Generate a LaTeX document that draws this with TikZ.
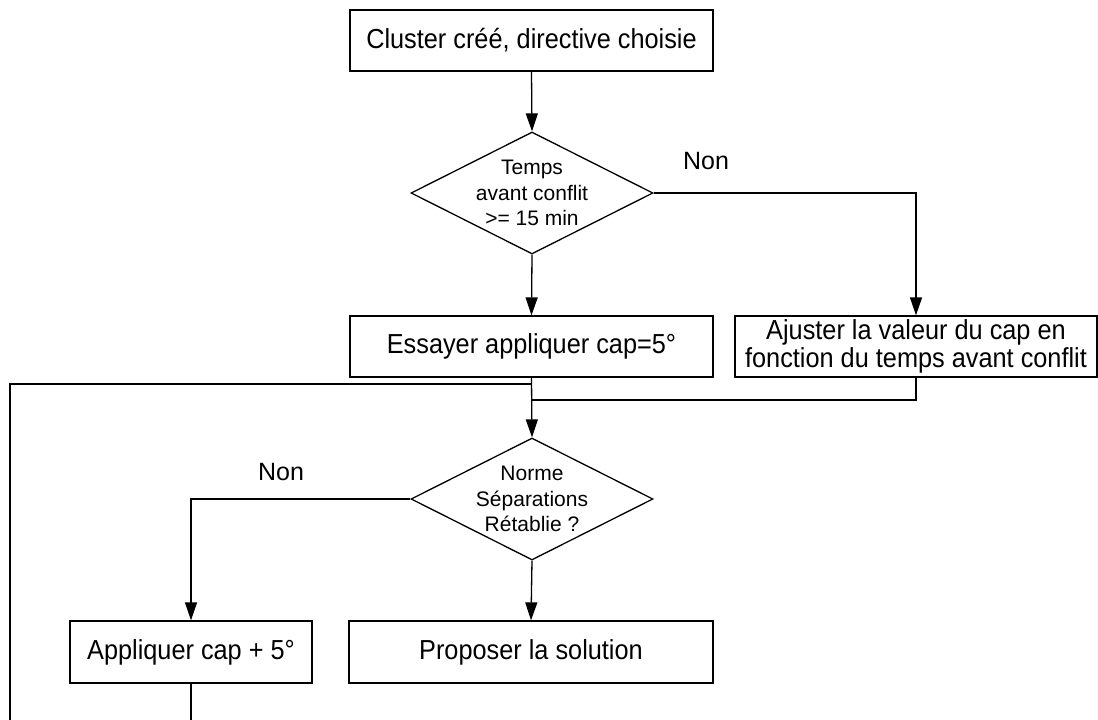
\documentclass[tikz,border=0pt]{standalone}
\usepackage{fontspec}
\setmainfont{Liberation Sans}
\newfontfamily\boxfont{Liberation Sans}[FakeStretch=0.92]
\usetikzlibrary{arrows.meta,shapes.geometric}
\begin{document}
\begin{tikzpicture}[x=1pt,y=-1pt,
  line width=1.3pt,
  box/.style={draw,rectangle,inner sep=0pt,minimum height=61pt,
    font=\boxfont\fontsize{27.5}{28.5}\selectfont,align=center},
  dec/.style={draw,diamond,inner sep=0pt,minimum width=242pt,minimum height=122pt},
  dtext/.style={font=\fontsize{21}{25.5}\selectfont,align=center,inner sep=0pt},
  lbl/.style={font=\fontsize{25}{29}\selectfont,inner sep=0pt},
  arr/.style={-{Triangle[length=18pt,width=12pt]}}]
\path[use as bounding box] (0,0) rectangle (1098,720);

\node[box,minimum width=363pt] (start) at (531.5,40.5) {Cluster créé, directive choisie};
\node[dec] (d1) at (532,193) {};
\node[dtext] (d1t) at (d1.center) {Temps\\avant conflit\\>= 15 min};
\node[box,minimum width=363pt] (ess) at (531.5,346.5) {Essayer appliquer cap=5°};
\node[box,minimum width=362pt] (aj) at (916,346.5) {Ajuster la valeur du cap en\\fonction du temps avant conflit};
\node[dec] (d2) at (532,499) {};
\node[dtext] (d2t) at (d2.center) {Norme\\Séparations\\Rétablie ?};
\node[box,minimum width=242pt,minimum height=62pt] (ap) at (191,652) {Appliquer cap + 5°};
\node[box,minimum width=364pt,minimum height=62pt] (prop) at (531,652) {Proposer la solution};

\node[lbl] (non1) at (706,161) {Non};
\node[lbl] (non2) at (281,472) {Non};

\coordinate (m1) at (532,400);
\coordinate (m2) at (532,384);
\coordinate (b1) at (191,720);
\coordinate (b2) at (10,720);

\draw[arr] (start.south) -- (d1.north);
\draw[arr] (d1.south) -- (ess.north);
\draw[arr] (d1.east) -| (aj.north);
\draw[arr] (ess.south) -- (d2.north);
\draw (aj.south) |- (m1);
\draw (b2) |- (m2);
\draw[arr] (d2.west) -| (ap.north);
\draw[arr] (d2.south) -- (prop.north);
\draw (ap.south) -- (b1);
\end{tikzpicture}
\end{document}
